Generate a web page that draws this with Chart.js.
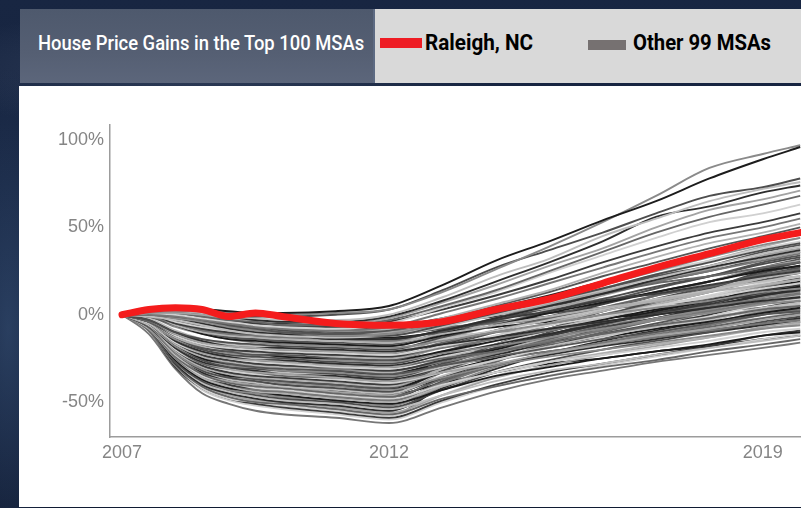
<!DOCTYPE html>
<html>
<head>
<meta charset="utf-8">
<title>House Price Gains in the Top 100 MSAs</title>
<script src="https://cdn.jsdelivr.net/npm/chart.js@4.4.1/dist/chart.umd.min.js"></script>
<style>
  html, body { margin: 0; padding: 0; }
  body {
    width: 801px; height: 508px; overflow: hidden; position: relative;
    background:
      radial-gradient(ellipse 60px 260px at 8px 330px, rgba(70, 100, 140, 0.45), transparent),
      radial-gradient(ellipse 300px 60px at 200px 70px, rgba(120, 135, 160, 0.25), transparent),
      linear-gradient(180deg, #182642 0%, #13213d 60%, #101b33 100%);
  }
  .title-box {
    position: absolute; left: 20px; top: 9px; width: 353px; height: 74px;
    background: linear-gradient(180deg, #4e596d 0%, #555f73 60%, #5c667b 100%);
  }
  .title-box span {
    position: absolute; left: 18px; top: 24px; color: #fff; white-space: nowrap;
    font: 500 21px Roboto, "Liberation Sans", sans-serif; line-height: 21px;
    transform-origin: 0 50%;
  }
  .legend-box {
    position: absolute; left: 373px; top: 9px; width: 428px; height: 74px;
    background: #d9d9d9; border-left: 2px solid #5d6a82; box-sizing: border-box;
  }
  .swatch { position: absolute; height: 10px; }
  .legend-box span {
    position: absolute; top: 23px; color: #000; white-space: nowrap;
    font: 700 22px Roboto, "Liberation Sans", sans-serif; line-height: 22px;
    transform-origin: 0 50%;
  }
  .panel {
    position: absolute; left: 19px; top: 86px; width: 782px; height: 421px; background: #fff;
  }
  canvas { display: block; }
</style>
</head>
<body>
<div class="title-box"><span id="title" data-w="326">House Price Gains in the Top 100 MSAs</span></div>
<div class="legend-box">
  <div class="swatch" style="left:5px; top:29px; width:42px; background:#ee1c24;"></div>
  <span data-w="108" style="left:50px;">Raleigh, NC</span>
  <div class="swatch" style="left:213px; top:31px; width:38px; background:#767171;"></div>
  <span data-w="138" style="left:258px;">Other 99 MSAs</span>
</div>
<div class="panel"><canvas id="chart" width="782" height="421"></canvas></div>

<script>
// squeeze the header texts to the condensed look
document.querySelectorAll('span[data-w]').forEach(el => {
  el.style.transform = 'scaleX(' + (el.dataset.w / el.offsetWidth) + ')'
})

const YEARS = [2007, 2007.5, 2008, 2008.5, 2009, 2009.5, 2010, 2011, 2012, 2013, 2014, 2015, 2016, 2017, 2018, 2019, 2019.7]
const RALEIGH = [0, 3, 4, 3, -1, 1, -1, -5, -6, -4, 3, 9, 18, 27, 35, 43, 47]
const OTHER_MSAS = [
  [0, 2, 3, 3, 2, 1, 1, 2, 5, 17, 31, 42, 54, 65, 78, 89, 96],
  [0, 1, 2, 2, 1, 0, 0, 1, 3, 13, 26, 39, 53, 68, 84, 92, 97],
  [0, 2, 3, 2, 0, -1, -1, 0, 3, 14, 27, 37, 47, 58, 68, 73, 78],
  [0, 1, 2, 1, -1, -2, -3, -3, 0, 10, 22, 32, 45, 55, 65, 72, 76],
  [0, 2, 2, 1, -1, -3, -4, -4, -1, 8, 19, 30, 42, 56, 62, 70, 74],
  [0, 1, 1, 0, -2, -3, -4, -5, -2, 7, 17, 28, 38, 50, 60, 66, 71],
  [0, 1, 1, -1, -3, -4, -6, -6, -3, 5, 14, 25, 36, 47, 56, 63, 68],
  [0, 1, 0, -2, -4, -6, -7, -8, -5, 4, 13, 24, 34, 44, 53, 58, 63],
  [0, 1, 0, -1, -3, -5, -6, -7, -4, 3, 11, 20, 30, 39, 47, 53, 58],
  [0, 0, -1, -3, -5, -7, -8, -9, -7, 1, 9, 18, 27, 36, 44, 50, 55],
  [0, 1, 1, -1, -4, -5, -7, -9, -8, -2, 6, 14, 24, 33, 41, 47, 52],
  [0, 0, -1, -3, -6, -8, -10, -11, -9, -3, 5, 13, 22, 30, 38, 45, 50],
  [0, 1, 0, -2, -4, -6, -7, -8, -7, -2, 4, 11, 19, 27, 35, 42, 46],
  [0, 0, -2, -4, -7, -9, -10, -12, -11, -5, 2, 9, 17, 25, 33, 40, 44],
  [0, 0, -1, -3, -5, -7, -9, -11, -12, -6, 1, 8, 15, 23, 30, 37, 41],
  [0, -1, -3, -6, -9, -11, -12, -13, -12, -7, 0, 7, 14, 21, 28, 35, 39],
  [0, 0, -2, -5, -8, -10, -11, -14, -14, -9, -2, 5, 12, 20, 27, 33, 37],
  [0, 0, -1, -3, -6, -8, -9, -11, -10, -6, 0, 6, 13, 20, 27, 32, 36],
  [0, 1, -3, -6, -7, -8, -9, -9, -10, -4, 1, 7, 12, 18, 22, 27, 30],
  [0, 0, -4, -7, -9, -10, -10, -11, -12, -5, 3, 10, 17, 25, 31, 38, 42],
  [0, 0, -5, -8, -10, -11, -12, -13, -14, -9, -3, 2, 8, 12, 17, 22, 25],
  [0, -1, -5, -9, -11, -12, -13, -14, -15, -9, -2, 6, 13, 19, 25, 31, 35],
  [0, 0, -6, -10, -12, -13, -14, -15, -16, -11, -6, -1, 4, 8, 13, 17, 20],
  [0, -1, -6, -10, -13, -14, -15, -16, -17, -10, -2, 6, 14, 22, 28, 36, 40],
  [0, 0, -6, -11, -14, -15, -16, -17, -18, -12, -6, 1, 7, 13, 19, 25, 28],
  [0, -1, -7, -11, -14, -16, -17, -18, -19, -15, -10, -5, 0, 4, 8, 13, 15],
  [0, -3, -10, -14, -16, -17, -18, -19, -20, -13, -6, 2, 9, 16, 22, 29, 33],
  [0, -2, -9, -14, -17, -18, -18, -19, -20, -14, -9, -3, 3, 9, 14, 19, 22],
  [0, -3, -10, -15, -17, -18, -19, -20, -21, -17, -13, -8, -4, 0, 4, 8, 10],
  [0, -3, -11, -16, -18, -19, -20, -21, -22, -14, -6, 3, 11, 19, 26, 34, 38],
  [0, -4, -11, -15, -18, -19, -20, -21, -22, -16, -9, -2, 4, 11, 16, 23, 26],
  [0, -3, -12, -17, -19, -20, -21, -22, -23, -18, -12, -6, -1, 5, 10, 15, 18],
  [0, -4, -12, -17, -20, -21, -22, -23, -24, -17, -9, -2, 6, 13, 19, 26, 30],
  [0, -4, -12, -17, -20, -21, -21, -23, -24, -19, -14, -9, -4, 0, 5, 9, 12],
  [0, -4, -13, -18, -20, -22, -22, -24, -25, -19, -12, -5, 2, 8, 14, 21, 24],
  [0, -4, -13, -19, -21, -23, -23, -25, -26, -18, -10, -1, 7, 15, 22, 30, 34],
  [0, -4, -13, -19, -21, -22, -24, -25, -26, -21, -15, -9, -3, 3, 8, 13, 16],
  [0, -4, -14, -19, -22, -23, -24, -26, -27, -22, -18, -13, -8, -3, 1, 6, 8],
  [0, -4, -14, -20, -23, -24, -25, -27, -28, -21, -13, -6, 2, 9, 16, 23, 27],
  [0, -5, -14, -20, -23, -25, -25, -26, -28, -22, -15, -8, -2, 5, 10, 17, 20],
  [0, -4, -15, -21, -24, -25, -26, -28, -29, -23, -17, -11, -5, 0, 5, 11, 14],
  [0, -5, -15, -22, -25, -26, -27, -29, -30, -22, -13, -5, 4, 11, 19, 27, 31],
  [0, -4, -15, -21, -24, -26, -27, -28, -30, -25, -21, -16, -11, -6, -2, 3, 5],
  [0, -5, -16, -22, -25, -27, -28, -30, -31, -24, -17, -9, -2, 5, 11, 18, 22],
  [0, -5, -16, -23, -26, -28, -29, -30, -32, -26, -19, -12, -5, 1, 7, 14, 17],
  [0, -5, -16, -23, -26, -28, -29, -31, -32, -27, -21, -15, -9, -3, 2, 7, 10],
  [0, -5, -17, -24, -27, -29, -30, -31, -33, -25, -17, -9, -1, 6, 13, 21, 25],
  [0, -5, -17, -24, -28, -30, -31, -32, -34, -29, -24, -19, -14, -10, -5, 0, 2],
  [0, -5, -17, -25, -28, -29, -30, -32, -34, -27, -20, -12, -5, 2, 8, 15, 19],
  [0, -5, -18, -25, -29, -30, -32, -33, -35, -29, -22, -15, -9, -2, 3, 10, 13],
  [0, -5, -18, -26, -30, -31, -32, -34, -36, -28, -19, -10, -1, 8, 15, 24, 28],
  [0, -6, -18, -26, -29, -31, -33, -34, -36, -30, -24, -18, -12, -7, -2, 4, 7],
  [0, -6, -19, -27, -30, -32, -33, -35, -37, -30, -23, -16, -8, -2, 5, 11, 15],
  [0, -6, -19, -27, -31, -33, -34, -36, -38, -33, -28, -22, -17, -12, -8, -3, 0],
  [0, -6, -19, -28, -31, -33, -35, -36, -38, -30, -22, -14, -6, 2, 9, 17, 21],
  [0, -6, -20, -28, -32, -34, -35, -37, -39, -33, -26, -19, -13, -6, -1, 6, 9],
  [0, -6, -20, -29, -33, -35, -36, -38, -40, -29, -19, -11, -5, 1, 6, 13, 16],
  [0, -6, -20, -29, -33, -35, -36, -38, -40, -33, -26, -21, -17, -13, -9, -5, -3],
  [0, -6, -21, -30, -34, -36, -37, -39, -41, -31, -21, -14, -8, -3, 2, 8, 11],
  [0, -6, -21, -30, -34, -37, -38, -40, -42, -29, -17, -8, 0, 6, 13, 20, 24],
  [0, -6, -21, -30, -35, -36, -38, -40, -42, -33, -25, -18, -13, -8, -4, 1, 4],
  [0, -6, -22, -31, -35, -37, -39, -41, -43, -36, -29, -24, -20, -16, -12, -8, -6],
  [0, -7, -22, -32, -36, -38, -40, -42, -44, -32, -22, -14, -7, -2, 4, 11, 14],
  [0, -7, -23, -32, -37, -39, -41, -43, -45, -35, -26, -19, -13, -8, -3, 3, 6],
  [0, -7, -22, -33, -37, -39, -40, -43, -45, -36, -29, -23, -18, -14, -9, -5, -2],
  [0, -7, -23, -33, -38, -40, -41, -44, -46, -33, -22, -13, -6, 1, 7, 14, 18],
  [0, -7, -24, -34, -39, -41, -42, -45, -47, -37, -29, -22, -17, -12, -7, -2, 1],
  [0, -7, -24, -35, -39, -42, -43, -46, -48, -40, -33, -27, -23, -19, -15, -10, -8],
  [0, -7, -24, -34, -40, -42, -43, -46, -48, -36, -26, -18, -11, -6, 0, 7, 10],
  [0, -7, -25, -35, -40, -43, -44, -47, -49, -39, -29, -22, -16, -11, -6, 0, 3],
  [0, -8, -25, -36, -41, -44, -45, -48, -50, -41, -33, -27, -22, -17, -13, -8, -5],
  [0, -7, -25, -36, -41, -43, -45, -47, -50, -38, -26, -18, -11, -5, 2, 8, 12],
  [0, -8, -26, -37, -42, -44, -46, -49, -51, -43, -35, -30, -25, -21, -17, -12, -10],
  [0, -8, -26, -37, -43, -45, -47, -49, -52, -41, -30, -22, -16, -10, -5, 2, 5],
  [0, -8, -27, -38, -43, -46, -48, -50, -53, -43, -33, -26, -20, -15, -10, -4, -1],
  [0, -8, -27, -39, -44, -47, -49, -51, -54, -46, -38, -32, -28, -23, -19, -15, -12],
  [0, -8, -28, -40, -45, -48, -50, -52, -55, -42, -31, -22, -15, -9, -3, 4, 8],
  [0, -8, -28, -40, -46, -49, -50, -53, -56, -46, -36, -29, -23, -18, -13, -7, -4],
  [0, -9, -29, -41, -47, -50, -51, -54, -57, -48, -41, -35, -30, -26, -21, -17, -14],
  [0, -9, -29, -42, -48, -50, -52, -55, -58, -46, -35, -27, -20, -14, -8, -2, 2],
  [0, -9, -30, -42, -48, -51, -53, -56, -59, -49, -40, -33, -28, -23, -18, -12, -9],
  [0, -11, -31, -45, -51, -55, -57, -59, -62, -53, -44, -37, -32, -27, -23, -19, -16],
  [0, 1, -1, -3, -5, -6, -6, -7, -8, -4, 0, 4, 9, 12, 16, 20, 22],
  [0, 1, -3, -6, -8, -9, -9, -10, -11, -8, -4, -1, 3, 6, 9, 12, 14],
  [0, 0, -4, -8, -10, -11, -11, -12, -13, -10, -7, -4, -2, 1, 4, 7, 8],
  [0, 0, -5, -9, -11, -12, -13, -14, -15, -13, -10, -8, -5, -3, -1, 2, 3],
  [0, 0, -5, -10, -13, -14, -15, -17, -18, -11, -3, 4, 12, 19, 25, 32, 36],
  [0, -4, -13, -19, -22, -24, -24, -26, -27, -23, -20, -16, -12, -9, -5, -2, 0],
  [0, -5, -17, -24, -27, -29, -30, -31, -33, -29, -25, -21, -17, -13, -10, -6, -4],
  [0, -7, -22, -32, -36, -38, -40, -42, -44, -30, -17, -8, 0, 7, 14, 22, 26],
  [0, -8, -26, -37, -43, -45, -47, -49, -52, -39, -27, -17, -10, -3, 4, 11, 15],
  [0, -9, -30, -43, -49, -52, -54, -57, -60, -50, -41, -35, -29, -24, -19, -14, -11],
  [0, 1, -2, -4, -5, -5, -5, -6, -6, -4, -1, 1, 4, 6, 8, 11, 12],
  [0, 1, -3, -6, -7, -8, -8, -8, -9, -7, -5, -3, -1, 1, 2, 4, 5],
  [0, -3, -10, -15, -17, -18, -19, -20, -21, -12, -4, 6, 15, 23, 31, 39, 44],
  [0, -5, -17, -25, -29, -30, -32, -33, -35, -26, -17, -8, 2, 11, 19, 27, 32],
  [0, -7, -23, -33, -38, -40, -41, -44, -46, -39, -33, -28, -25, -21, -18, -14, -12],
  [0, -8, -28, -40, -45, -48, -50, -52, -55, -40, -27, -16, -8, 0, 7, 16, 20],
  [0, -9, -29, -42, -48, -50, -52, -55, -58, -40, -25, -12, -3, 6, 15, 25, 30]
]
const X_TICKS = [2007, 2012, 2019]
const Y_TICKS = [-50, 0, 50, 100]

// shades cycled over the 99 gray lines
const GRAYS = ['#1c1c1c', '#8a8a8a', '#4d4d4d', '#bdbdbd', '#2e2e2e', '#a3a3a3', '#666666', '#d0d0d0', '#3b3b3b', '#777777', '#b0b0b0', '#555555']

const toPoints = vals => YEARS.map((x, i) => ({ x: x, y: vals[i] }))

const datasets = [{
  label: 'Raleigh, NC',
  data: toPoints(RALEIGH),
  borderColor: '#f41c1c',
  borderWidth: 7,
  borderCapStyle: 'round',
  borderJoinStyle: 'round',
  order: 0
}]
OTHER_MSAS.forEach((vals, i) => {
  datasets.push({
    label: 'MSA ' + (i + 1),
    data: toPoints(vals),
    borderColor: GRAYS[i % GRAYS.length],
    borderWidth: 1.9,
    order: 1
  })
})

const tickFont = { family: '"Liberation Sans", Arial, sans-serif', size: 18 }

const chart = new Chart(document.getElementById('chart'), {
  type: 'line',
  data: { datasets: datasets },
  options: {
    responsive: false,
    animation: false,
    layout: { padding: { top: 39, left: 0, right: 0, bottom: 0 } },
    elements: {
      point: { radius: 0 },
      line: { cubicInterpolationMode: 'monotone', fill: false }
    },
    plugins: {
      legend: { display: false },
      tooltip: { enabled: false }
    },
    scales: {
      x: {
        type: 'linear',
        min: 2006.775,
        max: 2019.715,
        grid: { display: false, drawTicks: false },
        border: { display: true, color: '#9c9c9c', width: 1.5 },
        afterBuildTicks: (scale) => { scale.ticks = X_TICKS.map(v => ({ value: v })) },
        afterFit: (scale) => { scale.height = 70 },
        ticks: {
          padding: 5,
          color: '#858585',
          font: tickFont,
          maxRotation: 0,
          autoSkip: false,
          callback: (v) => String(v)
        }
      },
      y: {
        min: -70,
        max: 108.6,
        grid: { display: false, drawTicks: false },
        border: { display: true, color: '#9c9c9c', width: 1.5 },
        afterBuildTicks: (scale) => { scale.ticks = Y_TICKS.map(v => ({ value: v })) },
        afterFit: (scale) => { scale.width = 91 },
        ticks: {
          padding: 6,
          color: '#858585',
          font: tickFont,
          callback: (v) => v + '%'
        }
      }
    }
  }
})
</script>
</body>
</html>
